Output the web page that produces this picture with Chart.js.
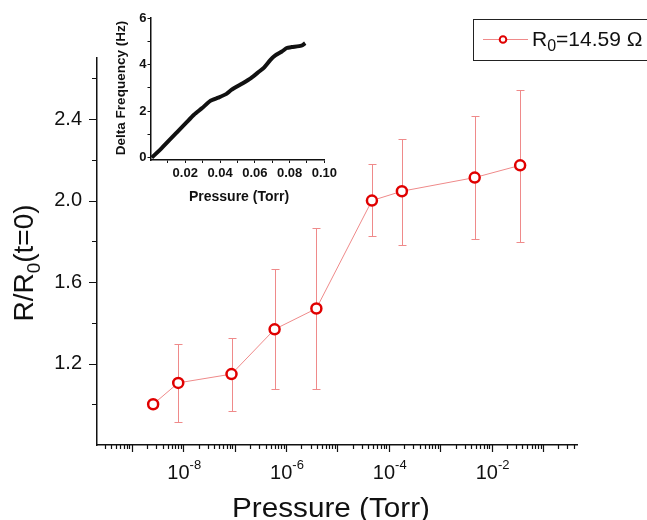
<!DOCTYPE html>
<html>
<head>
<meta charset="utf-8">
<script src="https://cdn.jsdelivr.net/npm/chart.js@4.4.0/dist/chart.umd.min.js"></script>
<style>
body{margin:0;background:#fff}
#wrap{position:relative;width:647px;height:520px;overflow:hidden}
#main{position:absolute;left:0;top:0}
#inset{position:absolute;left:100px;top:0}
</style>
</head>
<body>
<div id="wrap">
<canvas id="main" width="647" height="520"></canvas>
<canvas id="inset" width="240" height="210"></canvas>
</div>
<script>
// main plot: R/R0 vs pressure (log axis)
const pressure = [2.6e-9, 8e-9, 8.7e-8, 6e-7, 3.9e-6, 4.7e-5, 1.8e-4, 4.7e-3, 3.6e-2];
const ratio    = [1.0, 1.105, 1.148, 1.368, 1.47, 2.0, 2.046, 2.113, 2.173];
const errHigh  = [null, 1.295, 1.327, 1.666, 1.865, 2.178, 2.302, 2.413, 2.542];
const errLow   = [null, 0.914, 0.968, 1.073, 1.074, 1.824, 1.784, 1.81, 1.798];
const yTicks = [1.2, 1.6, 2.0, 2.4];
const yMinorTicks = [1.0, 1.4, 1.8, 2.2, 2.6];
const xLabelExps = [-8, -6, -4, -2];
const xDecades = [-10, -9, -8, -7, -6, -5, -4, -3, -2, -1];

// inset: delta frequency vs pressure
const freqP = [0.0007, 0.0063, 0.0156, 0.0203, 0.025, 0.0297, 0.0344, 0.039, 0.0437, 0.0465, 0.0531, 0.0578, 0.0625, 0.0653, 0.069, 0.0718, 0.0756, 0.0784, 0.0812, 0.0868, 0.089];
const freqD = [0.0, 0.40, 1.12, 1.48, 1.84, 2.13, 2.44, 2.58, 2.74, 2.91, 3.2, 3.42, 3.70, 3.87, 4.2, 4.39, 4.56, 4.71, 4.75, 4.81, 4.92];
const insetXTicks = [0.01, 0.02, 0.03, 0.04, 0.05, 0.06, 0.07, 0.08, 0.09, 0.10];
const insetXLabels = [0.02, 0.04, 0.06, 0.08, 0.10];
const insetYTicks = [0, 1, 2, 3, 4, 5, 6];
const insetYLabels = [0, 2, 4, 6];

const FONT = 'Arial, "Liberation Sans", sans-serif';
const markerRed = '#e00000';
const lineRed = '#ef8a8a';

function near(list, v) {
    return list.some(t => Math.abs(t - v) < 1e-9);
}

function drawRuns(ctx, x, y, runs) {
    runs.forEach(([text, size, dy]) => {
        ctx.font = size + 'px ' + FONT;
        ctx.fillText(text, x, y + dy);
        x += ctx.measureText(text).width;
    });
}

function runsWidth(ctx, runs) {
    let w = 0;
    runs.forEach(([text, size]) => {
        ctx.font = size + 'px ' + FONT;
        w += ctx.measureText(text).width;
    });
    return w;
}

const errorBars = {
    id: 'errorBars',
    beforeDatasetsDraw(chart) {
        const {ctx, scales: {x, y}} = chart;
        ctx.save();
        ctx.strokeStyle = lineRed;
        ctx.lineWidth = 1;
        pressure.forEach((p, i) => {
            if (errHigh[i] == null) return;
            const px = Math.round(x.getPixelForValue(p)) + 0.5;
            const top = Math.round(y.getPixelForValue(errHigh[i])) + 0.5;
            const bot = Math.round(y.getPixelForValue(errLow[i])) + 0.5;
            ctx.beginPath();
            ctx.moveTo(px, top); ctx.lineTo(px, bot);
            ctx.moveTo(px - 4, top); ctx.lineTo(px + 4, top);
            ctx.moveTo(px - 4, bot); ctx.lineTo(px + 4, bot);
            ctx.stroke();
        });
        ctx.restore();
    }
};

const mainDecor = {
    id: 'mainDecor',
    afterDraw(chart) {
        const {ctx, scales: {x, y}, chartArea: area} = chart;
        ctx.save();
        ctx.strokeStyle = '#111';
        ctx.fillStyle = '#111';
        ctx.lineWidth = 1.2;

        // y tick marks (outward)
        ctx.beginPath();
        yTicks.forEach(v => {
            const py = Math.round(y.getPixelForValue(v)) + 0.5;
            ctx.moveTo(area.left - 8, py); ctx.lineTo(area.left, py);
        });
        yMinorTicks.forEach(v => {
            const py = Math.round(y.getPixelForValue(v)) + 0.5;
            ctx.moveTo(area.left - 5, py); ctx.lineTo(area.left, py);
        });
        // x tick marks: decades long, 2..9 short
        xDecades.forEach(e => {
            for (let m = 1; m <= 9; m++) {
                const v = m * Math.pow(10, e);
                if (v < x.min || v > x.max) continue;
                const px = Math.round(x.getPixelForValue(v)) + 0.5;
                ctx.moveTo(px, area.bottom);
                ctx.lineTo(px, area.bottom + (m === 1 ? 7 : 4));
            }
        });
        ctx.stroke();

        // x tick labels 10^n
        ctx.textBaseline = 'alphabetic';
        ctx.textAlign = 'left';
        xLabelExps.forEach(e => {
            const runs = [['10', 20, 0], [String(e), 13, -10]];
            const w = runsWidth(ctx, runs);
            const px = x.getPixelForValue(Math.pow(10, e));
            drawRuns(ctx, px - w / 2 + 1, 479, runs);
        });

        // x title (source is slightly stretched horizontally)
        ctx.save();
        ctx.font = '27px ' + FONT;
        ctx.textAlign = 'center';
        ctx.translate(331, 517);
        ctx.scale(1.1, 1);
        ctx.fillText('Pressure (Torr)', 0, 0);
        ctx.restore();

        // y title with subscript
        ctx.textAlign = 'left';
        const yRuns = [['R/R', 28, 0], ['0', 19, 7], ['(t=0)', 28, 0]];
        const yw = runsWidth(ctx, yRuns);
        ctx.save();
        ctx.translate(33, 263);
        ctx.rotate(-Math.PI / 2);
        drawRuns(ctx, -yw / 2, 0, yRuns);
        ctx.restore();

        // legend box
        ctx.lineWidth = 1;
        ctx.strokeStyle = '#222';
        ctx.strokeRect(473.5, 19.5, 200, 41);
        ctx.strokeStyle = lineRed;
        ctx.beginPath();
        ctx.moveTo(483, 39.5); ctx.lineTo(528, 39.5);
        ctx.stroke();
        ctx.beginPath();
        ctx.arc(503, 39.5, 3.3, 0, Math.PI * 2);
        ctx.fillStyle = '#fff';
        ctx.fill();
        ctx.strokeStyle = markerRed;
        ctx.lineWidth = 2;
        ctx.stroke();
        ctx.fillStyle = '#111';
        drawRuns(ctx, 532, 46, [['R', 21, 0], ['0', 16, 5], ['=14.59 \u03A9', 21, 0]]);
        ctx.restore();
    }
};

new Chart(document.querySelector('#main').getContext('2d'), {
    type: 'line',
    data: {
        datasets: [{
            data: pressure.map((p, i) => ({x: p, y: ratio[i]})),
            borderColor: lineRed,
            borderWidth: 1,
            pointRadius: 5,
            pointBorderWidth: 2.5,
            pointBorderColor: markerRed,
            pointBackgroundColor: '#fff',
            tension: 0
        }]
    },
    options: {
        responsive: false,
        animation: false,
        layout: {padding: {top: 58, right: 70, left: 0, bottom: 0}},
        plugins: {legend: {display: false}, tooltip: {enabled: false}},
        scales: {
            x: {
                type: 'logarithmic',
                min: 2.1e-10,
                max: 0.46,
                grid: {display: false, drawTicks: false},
                border: {display: true, color: '#111', width: 1.5},
                ticks: {display: false},
                afterFit: s => { s.height = 75; }
            },
            y: {
                type: 'linear',
                min: 0.8,
                max: 2.7,
                grid: {display: false, drawTicks: false},
                border: {display: true, color: '#111', width: 1.5},
                afterBuildTicks: s => { s.ticks = yTicks.map(v => ({value: v})); },
                ticks: {
                    padding: 15,
                    color: '#111',
                    font: {family: FONT, size: 20},
                    callback: v => v.toFixed(1)
                },
                afterFit: s => { s.width = 97; }
            }
        }
    },
    plugins: [errorBars, mainDecor]
});

const insetDecor = {
    id: 'insetDecor',
    afterDraw(chart) {
        const {ctx} = chart;
        ctx.save();
        ctx.fillStyle = '#111';
        ctx.font = 'bold 14px ' + FONT;
        ctx.textAlign = 'center';
        ctx.textBaseline = 'alphabetic';
        ctx.fillText('Pressure (Torr)', 139, 200.5);
        ctx.translate(25, 88);
        ctx.rotate(-Math.PI / 2);
        ctx.font = 'bold 13.5px ' + FONT;
        ctx.fillText('Delta Frequency (Hz)', 0, 0);
        ctx.restore();
    }
};

const insetFont = {family: FONT, size: 13, weight: 'bold'};

new Chart(document.querySelector('#inset').getContext('2d'), {
    type: 'line',
    data: {
        datasets: [{
            data: freqP.map((p, i) => ({x: p, y: freqD[i]})),
            borderColor: '#111',
            borderWidth: 4,
            pointRadius: 0,
            tension: 0.2
        }]
    },
    options: {
        responsive: false,
        animation: false,
        layout: {padding: {top: 18, right: 12, left: 10, bottom: 0}},
        plugins: {legend: {display: false}, tooltip: {enabled: false}},
        scales: {
            x: {
                type: 'linear',
                min: 0,
                max: 0.1,
                grid: {drawOnChartArea: false, drawTicks: true, tickLength: 3, color: '#111', lineWidth: 1},
                border: {display: true, color: '#111', width: 1.5},
                afterBuildTicks: s => { s.ticks = insetXTicks.map(v => ({value: v})); },
                ticks: {
                    padding: 3,
                    color: '#111',
                    font: insetFont,
                    maxRotation: 0,
                    autoSkip: false,
                    callback: v => near(insetXLabels, v) ? v.toFixed(2) : ''
                },
                afterFit: s => { s.height = 50; }
            },
            y: {
                type: 'linear',
                min: -0.1,
                max: 6,
                grid: {drawOnChartArea: false, drawTicks: true, tickLength: 3, color: '#111', lineWidth: 1},
                border: {display: true, color: '#111', width: 1.5},
                afterBuildTicks: s => { s.ticks = insetYTicks.map(v => ({value: v})); },
                ticks: {
                    padding: 1,
                    color: '#111',
                    font: insetFont,
                    autoSkip: false,
                    callback: v => near(insetYLabels, v) ? String(v) : ''
                },
                afterFit: s => { s.width = 40.5; }
            }
        }
    },
    plugins: [insetDecor]
});
</script>
</body>
</html>
